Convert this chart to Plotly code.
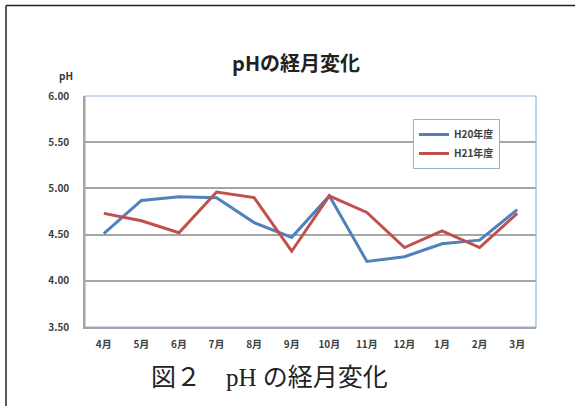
import plotly.graph_objects as go

months = ["4月", "5月", "6月", "7月", "8月", "9月", "10月", "11月", "12月", "1月", "2月", "3月"]
h20 = [4.51, 4.87, 4.91, 4.90, 4.63, 4.47, 4.92, 4.21, 4.26, 4.40, 4.44, 4.77]
h21 = [4.73, 4.65, 4.52, 4.96, 4.90, 4.32, 4.92, 4.74, 4.36, 4.54, 4.36, 4.73]
y_ticks = [3.5, 4.0, 4.5, 5.0, 5.5, 6.0]
y_labels = ["3.50", "4.00", "4.50", "5.00", "5.50", "6.00"]

FONT = "Noto Sans CJK JP, Noto Sans, sans-serif"

fig = go.Figure()
fig.add_trace(go.Scatter(x=months, y=h20, mode="lines", name="<b>H20年度</b>",
                         line=dict(color="#4F81BD", width=3)))
fig.add_trace(go.Scatter(x=months, y=h21, mode="lines", name="<b>H21年度</b>",
                         line=dict(color="#C0504D", width=3)))

L, R, T, B = 85, 39, 96, 79
W, H = 575, 406
pw, ph = W - L - R, H - T - B

def px(x):
    return (x - L) / pw

def py(y):
    return (H - B - y) / ph

fig.update_layout(
    width=W, height=H,
    margin=dict(l=L, r=R, t=T, b=B),
    paper_bgcolor="white", plot_bgcolor="white",
    font=dict(family=FONT, color="#404040"),
    showlegend=True,
    legend=dict(x=px(413), y=py(119), xanchor="left", yanchor="top",
                bordercolor="#95B3D7", borderwidth=1, bgcolor="white",
                font=dict(size=10, color="#404040"), tracegroupgap=0),
    xaxis=dict(type="category", range=[-0.5, len(months) - 0.5], showgrid=False,
               showline=True, linecolor="#A6A6A6", linewidth=1.5,
               ticks="", tickfont=dict(size=10, color="#404040"), ticklabelstandoff=7,
               tickprefix="<b>", ticksuffix="</b>"),
    yaxis=dict(range=[3.5, 6.0], tickvals=y_ticks, ticktext=["<b>%s</b>" % t for t in y_labels],
               showgrid=True, gridcolor="#A6A6A6", gridwidth=1.5,
               showline=True, linecolor="#A6A6A6", linewidth=1.5, zeroline=False,
               ticks="", tickfont=dict(size=10, color="#404040"), ticklabelstandoff=12),
    shapes=[
        dict(type="rect", xref="paper", yref="paper", x0=0, x1=1, y0=0, y1=1,
             line=dict(color="#95B3D7", width=1.2), layer="below"),
        dict(type="line", xref="paper", yref="paper", x0=px(6), x1=px(6), y0=py(5.5), y1=py(420),
             line=dict(color="#222222", width=1.5)),
        dict(type="line", xref="paper", yref="paper", x0=px(6), x1=px(590), y0=py(5.5), y1=py(5.5),
             line=dict(color="#222222", width=1.5)),
    ],
    annotations=[
        dict(text="<b>pHの経月変化</b>", xref="paper", yref="paper", x=px(296), y=py(62),
             xanchor="center", yanchor="middle", showarrow=False,
             font=dict(size=20, color="#222222", family=FONT)),
        dict(text="<b>pH</b>", xref="paper", yref="paper", x=px(66), y=py(75),
             xanchor="center", yanchor="middle", showarrow=False,
             font=dict(size=10, color="#333333", family=FONT)),
        dict(text="図２　pH の経月変化", xref="paper", yref="paper", x=px(269), y=py(377),
             xanchor="center", yanchor="middle", showarrow=False,
             font=dict(size=25, color="#222222", family="Liberation Serif, Noto Sans CJK JP, serif")),
    ],
)

fig.write_html("out.html")
